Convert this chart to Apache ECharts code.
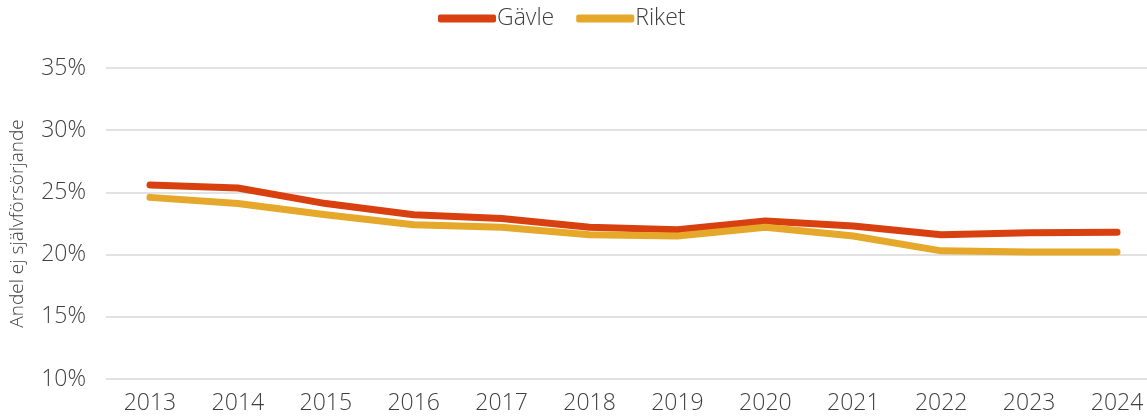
<!DOCTYPE html>
<html>
<head>
<meta charset="utf-8">
<script src="https://cdn.jsdelivr.net/npm/echarts@6/dist/echarts.min.js"></script>
<style>
  html, body { margin: 0; padding: 0; background: #fff; }
  #chart { width: 1147px; height: 418px; }
</style>
</head>
<body>
<div id="chart"></div>
<script>
// Andel ej självförsörjande, Gävle jämfört med riket
const years = ['2013','2014','2015','2016','2017','2018','2019','2020','2021','2022','2023','2024'];
const gavle = [25.6, 25.35, 24.1, 23.2, 22.9, 22.2, 22.0, 22.7, 22.3, 21.6, 21.75, 21.8];
const riket = [24.6, 24.1, 23.2, 22.4, 22.2, 21.6, 21.5, 22.2, 21.5, 20.3, 20.2, 20.2];

const FONT = '"Open Sans", "DejaVu Sans", sans-serif';
const TEXT = '#404040';

const chart = echarts.init(document.getElementById('chart'), null, { renderer: 'canvas' });
chart.setOption({
  animation: false,
  backgroundColor: '#fff',
  textStyle: { fontFamily: FONT, fontWeight: 300 },
  legend: {
    top: 2,
    left: 433,
    itemWidth: 58,
    itemHeight: 8,
    itemGap: 22,
    icon: 'roundRect',
    textStyle: { fontFamily: FONT, fontWeight: 300, fontSize: 23, color: TEXT, padding: [0, 0, 0, -4] },
    data: ['Gävle', 'Riket']
  },
  // the plot runs past the right edge of the canvas, so its width is fixed
  grid: { left: 106, width: 1055, top: 68, bottom: 39, containLabel: false, outerBoundsMode: 'none' },
  xAxis: {
    type: 'category',
    data: years,
    boundaryGap: true,
    axisLine: { show: false },
    axisTick: { show: false },
    axisLabel: { fontFamily: FONT, fontWeight: 300, fontSize: 23, color: TEXT, margin: 13 }
  },
  yAxis: {
    type: 'value',
    min: 10,
    max: 35,
    interval: 5,
    name: 'Andel ej självförsörjande',
    nameLocation: 'middle',
    nameGap: 79,
    nameRotate: 90,
    nameTextStyle: { fontFamily: FONT, fontWeight: 300, fontSize: 19, color: TEXT },
    axisLine: { show: false },
    axisTick: { show: false },
    axisLabel: { fontFamily: FONT, fontWeight: 300, fontSize: 23, color: TEXT, margin: 20, formatter: v => v + '%' },
    splitLine: { lineStyle: { color: '#d9d9d9', width: 1.5 } }
  },
  series: [
    {
      name: 'Gävle', type: 'line', data: gavle, symbol: 'none',
      lineStyle: { color: '#D9400F', width: 7, cap: 'round', join: 'round' },
      itemStyle: { color: '#D9400F' }
    },
    {
      name: 'Riket', type: 'line', data: riket, symbol: 'none',
      lineStyle: { color: '#E5A82A', width: 7, cap: 'round', join: 'round' },
      itemStyle: { color: '#E5A82A' }
    }
  ]
});
</script>
</body>
</html>
